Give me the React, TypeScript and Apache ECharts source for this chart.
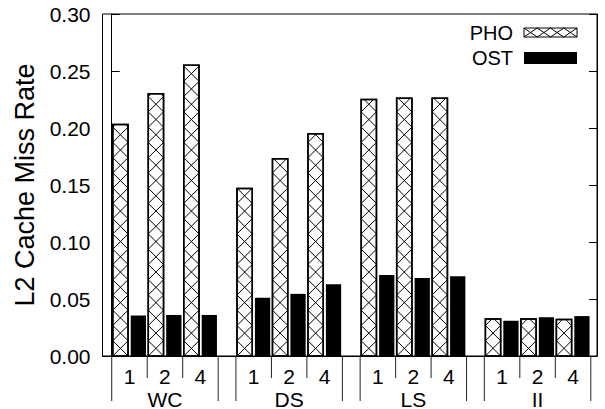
import React, { useEffect, useRef } from "react";
import * as echarts from "echarts";

const groups = ["WC", "DS", "LS", "II"];
const threads = ["1", "2", "4"];
const phoValues = [0.203, 0.23, 0.255, 0.147, 0.173, 0.195, 0.225, 0.226, 0.226, 0.0325, 0.0325, 0.032];
const ostValues = [0.0355, 0.036, 0.036, 0.051, 0.0545, 0.063, 0.071, 0.0685, 0.07, 0.031, 0.034, 0.035];
const yTicks = [0, 0.05, 0.1, 0.15, 0.2, 0.25, 0.3];

const GROUP_PITCH = 3.5;
const FONT = "Liberation Sans, Arial, Helvetica, sans-serif";
const FS = 21;

const slots: { x: number; g: number; s: number }[] = [];
groups.forEach((_, g) => threads.forEach((_, s) => slots.push({ x: g * GROUP_PITCH + s, g, s })));

function zigzagPoints(xl: number, xr: number, yb: number, yt: number, startLeft: boolean) {
  const w = xr - xl;
  const pts: number[][] = [];
  let y = yb;
  let atLeft = startLeft;
  pts.push([atLeft ? xl : xr, yb]);
  if (w <= 0 || yb - yt <= 0) return pts;
  while (y - w > yt) {
    y -= w;
    atLeft = !atLeft;
    pts.push([atLeft ? xl : xr, y]);
  }
  const rem = y - yt;
  const xEnd = atLeft ? xl + rem : xr - rem;
  pts.push([xEnd, yt]);
  return pts;
}

function barRender(off0: number, off1: number, hatched: boolean) {
  return (params: any, api: any) => {
    const xs = api.value(0);
    const v = api.value(1);
    const p0 = api.coord([xs + off0, v]);
    const p1 = api.coord([xs + off1, 0]);
    const xl = p0[0], xr = p1[0], yt = p0[1], yb = p1[1];
    const children: any[] = [
      {
        type: "rect",
        shape: { x: xl, y: yt, width: xr - xl, height: yb - yt },
        style: { fill: hatched ? "#fff" : "#000", stroke: "#000", lineWidth: hatched ? 1.5 : 0 },
      },
    ];
    if (hatched) {
      children.push({
        type: "polyline",
        shape: { points: zigzagPoints(xl, xr, yb, yt, true) },
        style: { fill: null, stroke: "#000", lineWidth: 1 },
      });
      children.push({
        type: "polyline",
        shape: { points: zigzagPoints(xl, xr, yb, yt, false) },
        style: { fill: null, stroke: "#000", lineWidth: 1 },
      });
      children.push({
        type: "rect",
        shape: { x: xl, y: yt, width: xr - xl, height: yb - yt },
        style: { fill: null, stroke: "#000", lineWidth: 1.5 },
      });
    }
    return { type: "group", children };
  };
}

function axisRender(params: any, api: any) {
  const xs = api.value(0);
  const g = api.value(1);
  const s = api.value(2);
  const a = api.coord([xs, 0]);
  const b = api.coord([xs + 1, 0]);
  const c = api.coord([xs + 0.5, 0]);
  const base = a[1];
  const children: any[] = [];
  const lineStyle = { stroke: "#222", lineWidth: 1 };
  children.push({
    type: "line",
    shape: { x1: a[0], y1: base, x2: a[0], y2: base + (s === 0 ? 45 : 22) },
    style: lineStyle,
  });
  if (s === 2) {
    children.push({
      type: "line",
      shape: { x1: b[0], y1: base, x2: b[0], y2: base + 45 },
      style: lineStyle,
    });
  }
  children.push({
    type: "text",
    style: {
      text: threads[s],
      x: c[0],
      y: base + 20,
      align: "center",
      textAlign: "center",
      verticalAlign: "middle",
      textVerticalAlign: "middle",
      fontSize: FS,
      fontFamily: FONT,
      fill: "#000",
    },
  });
  if (s === 1) {
    children.push({
      type: "text",
      style: {
        text: groups[g],
        x: c[0],
        y: base + 43,
        align: "center",
        textAlign: "center",
        verticalAlign: "middle",
        textVerticalAlign: "middle",
        fontSize: FS,
        fontFamily: FONT,
        fill: "#000",
      },
    });
  }
  return { type: "group", children };
}

function legendGraphics() {
  const bx0 = 524, bx1 = 577, by0 = 28, by1 = 37;
  const n = 4;
  const cw = (bx1 - bx0) / n;
  const lineA: number[][] = [];
  const lineB: number[][] = [];
  for (let i = 0; i <= n; i++) {
    const x = bx0 + i * cw;
    lineA.push([x, i % 2 === 0 ? by1 : by0]);
    lineB.push([x, i % 2 === 0 ? by0 : by1]);
  }
  return [
    {
      type: "text",
      style: { text: "PHO", x: 513, y: 32.5, textAlign: "right", textVerticalAlign: "middle", align: "right", verticalAlign: "middle", fontSize: 20, fontFamily: FONT, fill: "#000" },
    },
    { type: "rect", shape: { x: bx0, y: by0, width: bx1 - bx0, height: by1 - by0 }, style: { fill: "#fff", stroke: "#000", lineWidth: 1 } },
    { type: "polyline", shape: { points: lineA }, style: { fill: null, stroke: "#000", lineWidth: 1 } },
    { type: "polyline", shape: { points: lineB }, style: { fill: null, stroke: "#000", lineWidth: 1 } },
    {
      type: "text",
      style: { text: "OST", x: 513, y: 58, textAlign: "right", textVerticalAlign: "middle", align: "right", verticalAlign: "middle", fontSize: 20, fontFamily: FONT, fill: "#000" },
    },
    { type: "rect", shape: { x: bx0, y: 52, width: bx1 - bx0, height: 12 }, style: { fill: "#000" } },
  ];
}

export default function App() {
  const ref = useRef<HTMLDivElement>(null);
  useEffect(() => {
    if (!ref.current) return;
    const chart = echarts.init(ref.current, null, { renderer: "svg" });
    const axisCommon = {
      type: "value",
      min: 0,
      max: 0.3,
      interval: 0.05,
      axisLine: { show: true, lineStyle: { color: "#000", width: 1 } },
      axisTick: { show: true, inside: true, length: 8, lineStyle: { color: "#000", width: 1 } },
      splitLine: { show: false },
    };
    chart.setOption({
      animation: false,
      backgroundColor: "#fff",
      grid: { left: 102.5, right: 8, top: 14, bottom: 53, show: true, borderColor: "#000", borderWidth: 1, backgroundColor: "transparent" },
      xAxis: {
        type: "value",
        min: -0.26,
        max: 3 * GROUP_PITCH + 3 + 0.175,
        axisLine: { show: true, onZero: false, lineStyle: { color: "#000", width: 1 } },
        axisTick: { show: false },
        axisLabel: { show: false },
        splitLine: { show: false },
      },
      yAxis: [
        {
          ...axisCommon,
          position: "left",
          name: "L2 Cache Miss Rate",
          nameLocation: "middle",
          nameGap: 64,
          nameTextStyle: { fontSize: 27, fontFamily: FONT, color: "#000" },
          axisLabel: {
            show: true,
            fontSize: FS,
            fontFamily: FONT,
            color: "#000",
            margin: 12,
            formatter: (v: number) => v.toFixed(2),
            customValues: yTicks,
          },
        },
        {
          ...axisCommon,
          position: "right",
          axisLabel: { show: false },
        },
      ],
      series: [
        {
          name: "PHO",
          type: "custom",
          coordinateSystem: "cartesian2d",
          renderItem: barRender(0.03, 0.46, true),
          encode: { x: 0, y: 1 },
          data: slots.map((sl, k) => [sl.x, phoValues[k]]),
          silent: true,
        },
        {
          name: "OST",
          type: "custom",
          coordinateSystem: "cartesian2d",
          renderItem: barRender(0.535, 0.965, false),
          encode: { x: 0, y: 1 },
          data: slots.map((sl, k) => [sl.x, ostValues[k]]),
          silent: true,
        },
        {
          name: "axis",
          type: "custom",
          coordinateSystem: "cartesian2d",
          renderItem: axisRender,
          clip: false,
          encode: { x: 0, y: 1 },
          data: slots.map((sl) => [sl.x, sl.g, sl.s]),
          silent: true,
          z: 5,
        },
      ],
      graphic: legendGraphics(),
    });
    return () => chart.dispose();
  }, []);
  return <div ref={ref} style={{ width: 605, height: 409, position: "absolute", left: 0, top: 0 }} />;
}
